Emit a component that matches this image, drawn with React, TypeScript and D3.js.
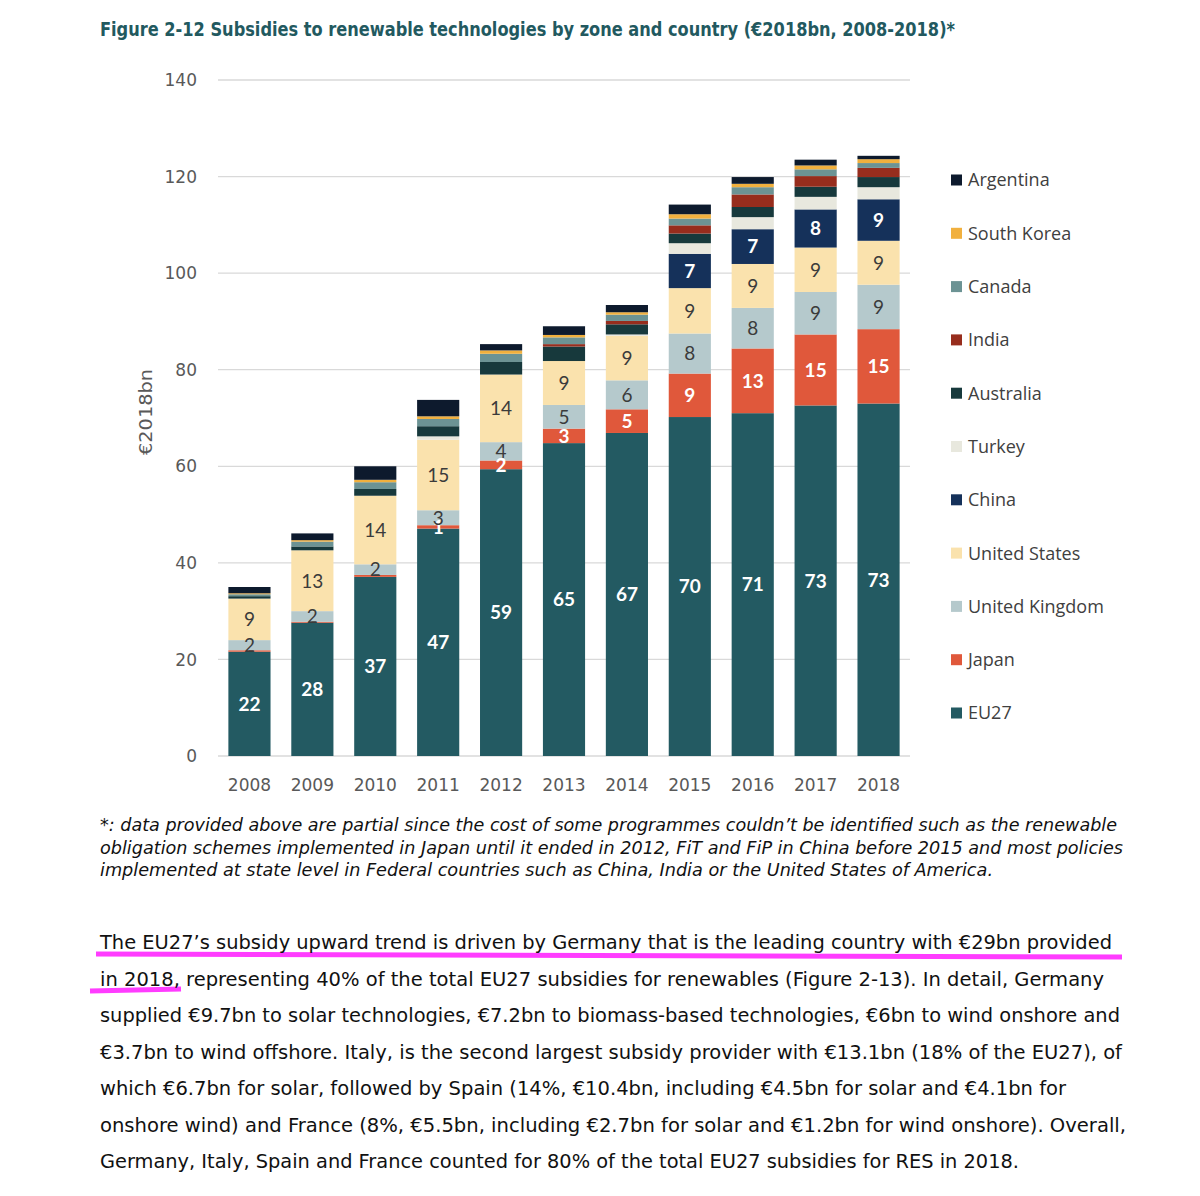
import React from 'react';
import * as d3 from 'd3';

const years = ['2008', '2009', '2010', '2011', '2012', '2013', '2014', '2015', '2016', '2017', '2018'];

const eu27 = [21.6, 27.6, 37.1, 47.1, 59.4, 64.8, 66.9, 70.2, 71.0, 72.6, 73.0];
const japan = [0.3, 0.2, 0.4, 0.7, 1.8, 3.0, 4.9, 9.0, 13.4, 14.7, 15.4];
const unitedKingdom = [2.1, 2.2, 2.2, 3.1, 3.8, 4.9, 6.0, 8.3, 8.4, 8.8, 9.2];
const unitedStates = [8.6, 12.6, 14.2, 14.6, 14.0, 9.1, 9.2, 9.4, 9.1, 9.2, 9.1];
const china = [0, 0, 0, 0, 0, 0, 0, 7.1, 7.2, 7.9, 8.6];
const turkey = [0, 0, 0, 0.7, 0, 0, 0.3, 2.2, 2.5, 2.6, 2.5];
const australia = [0.5, 0.8, 1.4, 2.1, 2.6, 3.0, 2.1, 2.0, 2.1, 2.1, 2.1];
const india = [0, 0, 0, 0, 0, 0.5, 0.7, 1.7, 2.6, 2.2, 1.9];
const canada = [0.4, 1.0, 1.4, 1.5, 1.7, 1.4, 1.3, 1.4, 1.5, 1.4, 1.0];
const southKorea = [0.2, 0.3, 0.5, 0.55, 0.7, 0.5, 0.5, 0.9, 0.7, 0.8, 0.8];
const argentina = [1.3, 1.4, 2.8, 3.4, 1.3, 1.8, 1.5, 2.0, 1.4, 1.2, 0.7];

const seriesNames = ['EU27', 'Japan', 'United Kingdom', 'United States', 'China', 'Turkey', 'Australia', 'India', 'Canada', 'South Korea', 'Argentina'];
const seriesValues = [eu27, japan, unitedKingdom, unitedStates, china, turkey, australia, india, canada, southKorea, argentina];
const seriesColors = ['#235a62', '#e0583b', '#b5c9cc', '#fae2ad', '#15315a', '#e8e8de', '#17393c', '#972d1d', '#6c9394', '#f1b03e', '#0d1a2d'];
const labeledSeries = ['EU27', 'Japan', 'United Kingdom', 'United States', 'China'];
const labelColors: Record<string, string> = {
  'EU27': '#ffffff', 'Japan': '#ffffff', 'United Kingdom': '#3b3b3b', 'United States': '#3b3b3b', 'China': '#ffffff',
};

const yTicks = [0, 20, 40, 60, 80, 100, 120, 140];

const titleText = 'Figure 2-12 Subsidies to renewable technologies by zone and country (€2018bn, 2008-2018)*';
const footnoteLines = [
  '*: data provided above are partial since the cost of some programmes couldn\u2019t be identified such as the renewable',
  'obligation schemes implemented in Japan until it ended in 2012, FiT and FiP in China before 2015 and most policies',
  'implemented at state level in Federal countries such as China, India or the United States of America.',
];
const footnoteWidths = [1017, 1023, 893];
const paragraphLines = [
  'The EU27\u2019s subsidy upward trend is driven by Germany that is the leading country with €29bn provided',
  'in 2018, representing 40% of the total EU27 subsidies for renewables (Figure 2-13). In detail, Germany',
  'supplied €9.7bn to solar technologies, €7.2bn to biomass-based technologies, €6bn to wind onshore and',
  '€3.7bn to wind offshore. Italy, is the second largest subsidy provider with €13.1bn (18% of the EU27), of',
  'which €6.7bn for solar, followed by Spain (14%, €10.4bn, including €4.5bn for solar and €4.1bn for',
  'onshore wind) and France (8%, €5.5bn, including €2.7bn for solar and €1.2bn for wind onshore). Overall,',
  'Germany, Italy, Spain and France counted for 80% of the total EU27 subsidies for RES in 2018.',
];
const paragraphWidths = [1012, 1004, 1020, 1022, 966, 1026, 919];

export default function App() {
  const W = 1200;
  const H = 1196;
  const left = 218;
  const right = 910;
  const top = 80;
  const bottom = 756;

  const x = d3.scaleBand<string>().domain(years).range([left, right]).paddingInner(0.33).paddingOuter(0.165);
  const y = d3.scaleLinear().domain([0, 140]).range([bottom, top]);

  const table = years.map((yr, i) => {
    const row: Record<string, number | string> = { year: yr };
    seriesNames.forEach((s, k) => { row[s] = seriesValues[k][i]; });
    return row;
  });
  const stacked = d3.stack<Record<string, number | string>>().keys(seriesNames)(table as any);

  const legendOrder = [...seriesNames].reverse();
  const legendY = d3.scalePoint<string>().domain(legendOrder).range([180, 713]);

  const bodyFont = '"DejaVu Sans", sans-serif';

  return (
    <svg width={W} height={H} style={{ position: 'absolute', left: 0, top: 0, background: '#fff' }}>
      <rect x={0} y={0} width={W} height={H} fill="#ffffff" />
      <text x={100} y={36} fontFamily={bodyFont} fontWeight="bold" fontSize={20} fill="#22595f"
        textLength={855} lengthAdjust="spacingAndGlyphs">{titleText}</text>

      {yTicks.map(t => (
        <g key={t}>
          <line x1={left} x2={right} y1={y(t)} y2={y(t)} stroke="#d9d9d9" strokeWidth={1.3} />
          <text x={197} y={y(t)} dy="0.36em" textAnchor="end" fontFamily={bodyFont} fontSize={17} fill="#595959">{t}</text>
        </g>
      ))}

      <text transform={`translate(146, 412) rotate(-90)`} textAnchor="middle" dy="0.35em" fontFamily={bodyFont}
        fontSize={18} fill="#595959" textLength={86} lengthAdjust="spacingAndGlyphs">€2018bn</text>

      {stacked.map((layer, k) => (
        <g key={layer.key} fill={seriesColors[k]}>
          {layer.map((d, i) => {
            const h = y(d[0]) - y(d[1]);
            if (h <= 0) return null;
            return <rect key={i} x={x(years[i])} y={y(d[1])} width={x.bandwidth()} height={h} />;
          })}
        </g>
      ))}

      {stacked.map((layer) => {
        if (!labeledSeries.includes(layer.key)) return null;
        const white = labelColors[layer.key] === '#ffffff';
        return (
          <g key={'lbl' + layer.key}>
            {layer.map((d, i) => {
              const v = d[1] - d[0];
              const r = Math.round(v);
              if (r < 1) return null;
              return (
                <text key={i} x={(x(years[i]) as number) + x.bandwidth() / 2} y={y((d[0] + d[1]) / 2)} dy="0.36em"
                  textAnchor="middle" fontFamily='Lato, "Open Sans", sans-serif' fontSize={19}
                  fontWeight={white ? 'bold' : 'normal'} fill={labelColors[layer.key]}>{r}</text>
              );
            })}
          </g>
        );
      })}

      {years.map(yr => (
        <text key={yr} x={(x(yr) as number) + x.bandwidth() / 2} y={791} textAnchor="middle" fontFamily={bodyFont}
          fontSize={17} fill="#595959">{yr}</text>
      ))}

      {legendOrder.map(name => {
        const k = seriesNames.indexOf(name);
        const cy = legendY(name) as number;
        return (
          <g key={name}>
            <rect x={951} y={cy - 5.5} width={11} height={11} fill={seriesColors[k]} />
            <text x={968} y={cy} dy="0.36em" fontFamily='"Open Sans", sans-serif' fontSize={18} fill="#404040">{name}</text>
          </g>
        );
      })}

      {footnoteLines.map((line, i) => (
        <text key={i} x={100} y={831 + i * 22.5} fontFamily={bodyFont} fontStyle="italic" fontSize={17} fill="#111"
          textLength={footnoteWidths[i]} lengthAdjust="spacingAndGlyphs">{line}</text>
      ))}

      <path d="M96,954 L1122,957" stroke="#ff3cff" strokeWidth={5} fill="none" />
      <path d="M90,991 L181,989" stroke="#ff3cff" strokeWidth={5} fill="none" />

      {paragraphLines.map((line, i) => (
        <text key={i} x={100} y={949 + i * 36.5} fontFamily={bodyFont} fontSize={20} fill="#111"
          textLength={paragraphWidths[i]} lengthAdjust="spacingAndGlyphs">{line}</text>
      ))}
    </svg>
  );
}
